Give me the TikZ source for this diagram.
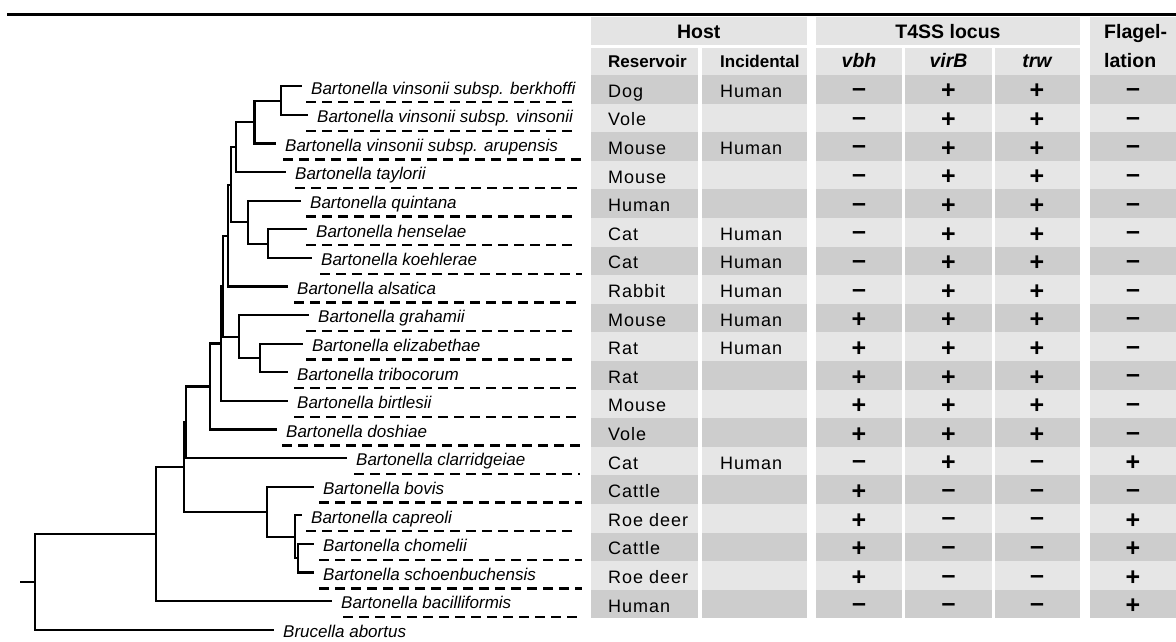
\documentclass[tikz,border=0pt]{standalone}
\usepackage{fontspec}
\setmainfont{Liberation Sans}
\newfontfamily\cellfont[LetterSpace=5.5]{Liberation Sans}
\definecolor{rowdark}{RGB}{205,205,205}
\definecolor{rowlight}{RGB}{230,230,230}
\definecolor{headgray}{RGB}{228,228,228}
\newcommand\sgn[1]{\if#1+#1\else\raisebox{2.2pt}{#1}\fi}
\begin{document}
\begin{tikzpicture}[x=1pt,y=-1pt,
  branch/.style={line width=2.1pt,line cap=rect},
  taxon/.style={anchor=west,inner xsep=10pt,inner ysep=0pt,text height=15.5pt,text depth=0pt,font=\fontsize{17}{20}\selectfont\itshape},
  leader/.style={line width=2.4pt,dash pattern=on 10pt off 6pt},
  cell/.style={anchor=base west,inner sep=0pt,font=\cellfont\fontsize{18}{20}\selectfont},
  sign/.style={anchor=base,inner sep=0pt,font=\fontsize{25}{28}\selectfont\bfseries},
  head/.style={anchor=base,inner sep=0pt,font=\fontsize{19.5}{22}\selectfont\bfseries},
  subhead/.style={anchor=base west,inner sep=0pt,font=\fontsize{17}{20}\selectfont\bfseries},
  gene/.style={anchor=base,inner sep=0pt,font=\fontsize{19.5}{22}\selectfont\bfseries\itshape}]
\useasboundingbox (0,0) rectangle (1176,642);
\draw[line width=3pt] (7,14.5) -- (1176,14.5);
\fill[headgray] (590.5,17) rectangle (807,45);
\fill[headgray] (816,17) rectangle (1080,45);
\fill[headgray] (1090,17) rectangle (1176,75);
\foreach \a/\b in {590.5/698,702/807,816/902,905/992,994.5/1080}
  \fill[headgray] (\a,48) rectangle (\b,75);
\foreach \i in {1,...,19}{
  \pgfmathtruncatemacro\pct{100*(1-mod(\i,2))}
  \foreach \a/\b in {590.5/698,702/807,816/902,905/992,994.5/1080,1090/1176}
    \fill[rowlight!\pct!rowdark] (\a,{75+28.6*(\i-1)}) rectangle (\b,{75+28.6*\i});
}
\node[head] (host) at (698.75,39) {Host};
\node[head] (t4ss) at (948,39) {T4SS locus};
\node[head,anchor=base west] (flag1) at (1104,39) {Flagel-};
\node[head,anchor=base west] (flag2) at (1104,68) {lation};
\node[subhead] (res) at (608,68) {Reservoir};
\node[subhead] (inc) at (720,68) {Incidental};
\node[gene] (vbh) at (859,68) {vbh};
\node[gene] (virb) at (948.5,68) {virB};
\node[gene] (trw) at (1037,68) {trw};
\foreach \i/\r/\v/\b/\w/\f in {1/Dog/–/+/+/–, 2/Vole/–/+/+/–, 3/Mouse/–/+/+/–, 4/Mouse/–/+/+/–,
  5/Human/–/+/+/–, 6/Cat/–/+/+/–, 7/Cat/–/+/+/–, 8/Rabbit/–/+/+/–, 9/Mouse/+/+/+/–,
  10/Rat/+/+/+/–, 11/Rat/+/+/+/–, 12/Mouse/+/+/+/–, 13/Vole/+/+/+/–, 14/Cat/–/+/–/+,
  15/Cattle/+/–/–/–, 16/Roe deer/+/–/–/+, 17/Cattle/+/–/–/+, 18/Roe deer/+/–/–/+, 19/Human/–/–/–/+}{
  \node[cell] (r\i) at (608,{68.7+28.6*\i}) {\r};
  \node[sign] (v\i) at (859,{70.4+28.6*\i}) {\sgn\v};
  \node[sign] (b\i) at (948.5,{70.4+28.6*\i}) {\sgn\b};
  \node[sign] (w\i) at (1037,{70.4+28.6*\i}) {\sgn\w};
  \node[sign] (f\i) at (1133,{70.4+28.6*\i}) {\sgn\f};
}
\foreach \i in {1,3,6,7,8,9,10,14}
  \node[cell] (h\i) at (720,{68.7+28.6*\i}) {Human};
\node[taxon] (t1) at (301,86.3) {Bartonella vinsonii subsp. berkhoffi};
\node[taxon] (t2) at (307,114.9) {Bartonella vinsonii subsp. vinsonii};
\node[taxon] (t3) at (275,143.5) {Bartonella vinsonii subsp. arupensis};
\node[taxon] (t4) at (285,172.1) {Bartonella taylorii};
\node[taxon] (t5) at (300,200.7) {Bartonella quintana};
\node[taxon] (t6) at (306,229.3) {Bartonella henselae};
\node[taxon] (t7) at (311,257.9) {Bartonella koehlerae};
\node[taxon] (t8) at (287,286.5) {Bartonella alsatica};
\node[taxon] (t9) at (308,315.1) {Bartonella grahamii};
\node[taxon] (t10) at (302,343.7) {Bartonella elizabethae};
\node[taxon] (t11) at (287,372.3) {Bartonella tribocorum};
\node[taxon] (t12) at (287,400.9) {Bartonella birtlesii};
\node[taxon] (t13) at (276,429.5) {Bartonella doshiae};
\node[taxon] (t14) at (346,458.1) {Bartonella clarridgeiae};
\node[taxon] (t15) at (313,486.7) {Bartonella bovis};
\node[taxon] (t16) at (301,515.3) {Bartonella capreoli};
\node[taxon] (t17) at (313,543.9) {Bartonella chomelii};
\node[taxon] (t18) at (313,572.5) {Bartonella schoenbuchensis};
\node[taxon] (t19) at (331,601.1) {Bartonella bacilliformis};
\node[taxon] (t20) at (273,629.7) {Brucella abortus};
\foreach \i/\a/\b in {1/306/576, 2/306/576, 3/283/582, 4/295/582, 5/306/576, 6/306/576,
  7/320/582, 8/294/582, 9/306/576, 10/306/576, 11/294/582, 12/294/582, 13/282/582,
  14/354/580, 15/319/582, 16/306/576, 17/319/582, 18/319/582, 19/343/579}
  \draw[leader] (\a,{73.5+28.6*\i}) -- (\b,{73.5+28.6*\i});
\coordinate (n1) at (281,100.6);
\coordinate (n2) at (254.5,122.05);
\coordinate (n3) at (236,147.1);
\coordinate (n4) at (231,184.6);
\coordinate (n5) at (268,243.6);
\coordinate (n6) at (248,222.15);
\coordinate (n7) at (228,235.6);
\coordinate (n8) at (223,286.1);
\coordinate (n9) at (239,336.55);
\coordinate (n10) at (260,358);
\coordinate (n11) at (221,343.5);
\coordinate (n12) at (210,386.5);
\coordinate (n13) at (186,422.3);
\coordinate (n14) at (184,467);
\coordinate (n15) at (267,511.7);
\coordinate (n16) at (295,536.75);
\coordinate (n17) at (156,534.05);
\coordinate (n18) at (298,558.2);
\coordinate (n19) at (35,581.9);
\coordinate (root) at (21,581.9);
\foreach \p/\c in {n1/t1, n1/t2, n2/n1, n2/t3, n3/n2, n3/t4, n5/t6, n5/t7, n6/t5, n6/n5,
  n4/n3, n4/n6, n7/n4, n7/t8, n10/t10, n10/t11, n9/t9, n9/n10, n8/n7, n8/n9,
  n11/n8, n11/t12, n12/n11, n12/t13, n13/n12, n13/t14, n18/t17, n18/t18,
  n16/t16, n16/n18, n15/t15, n15/n16, n14/n13, n14/n15, n17/n14, n17/t19,
  n19/n17, n19/t20}
  \draw[branch] (\p) |- (\c);
\draw[branch] (root) -- (n19);
\end{tikzpicture}
\end{document}
